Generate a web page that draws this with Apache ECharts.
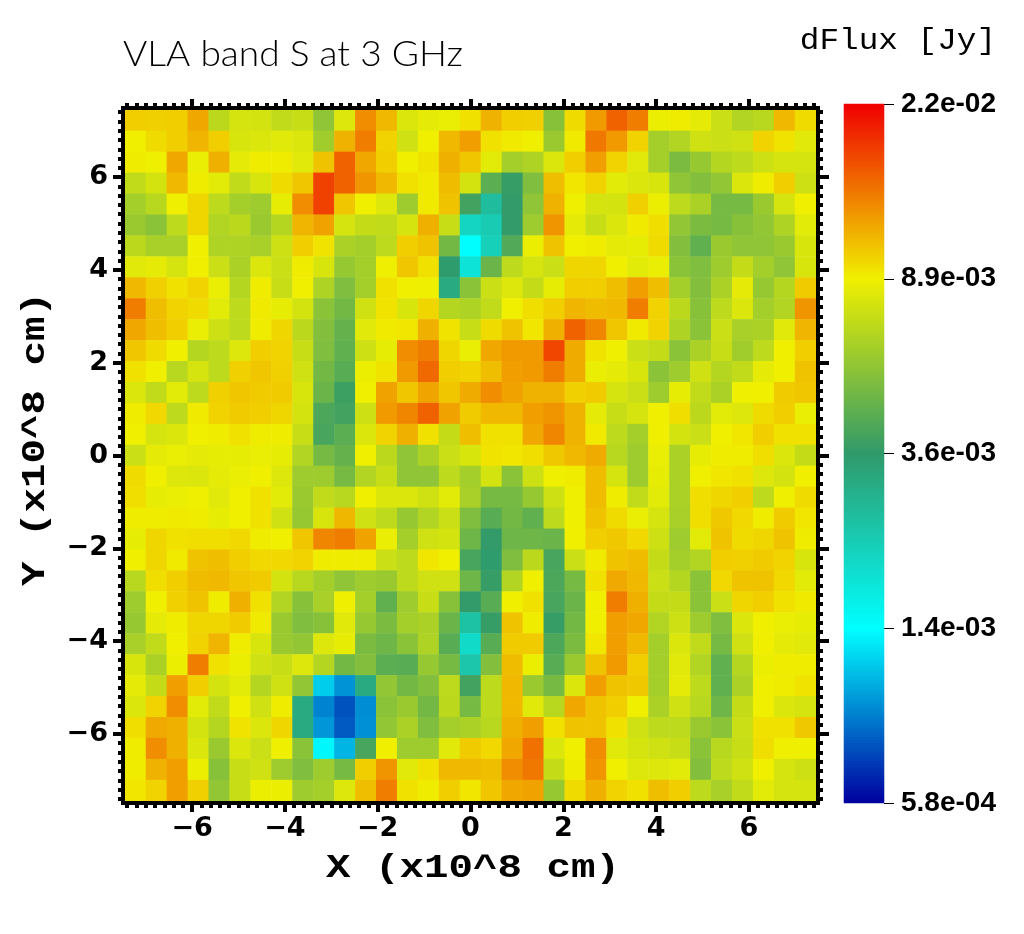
<!DOCTYPE html>
<html>
<head>
<meta charset="utf-8">
<title>VLA band S at 3 GHz</title>
<script src="https://cdn.jsdelivr.net/npm/echarts@6/dist/echarts.min.js"></script>
<style>
    html, body { margin: 0; padding: 0; background: #fff; }
    #container { width: 1024px; height: 934px; }
</style>
</head>
<body>
<div id="container"></div>
<script>
// dFlux per pixel in mJy, top row first
var fluxRows = [
    [10.1,10,10.1,11.7,6.9,7.8,7.7,7.1,7.3,5.6,8.1,12.9,10.9,8,8.4,8.6,9.4,11.2,10.1,10,5.4,9.6,12.3,15.2,13.7,8.7,9,8.4,7.4,6.6,6.8,10.9,9.6],
    [8.9,9.6,10.1,11.1,10.1,7.9,8,8.2,8,6.1,11.2,13.7,9.9,7.6,8.9,10.9,12.1,9.4,9.1,8.9,5.9,9.1,14,12.3,9.9,6.2,6.6,7.6,7.4,7.6,9.9,9.3,8.2],
    [9,8.8,11.7,8.6,11.3,8.4,9,9,8.2,10.5,15.2,11.7,10.1,8.9,9.3,11.3,10.4,8.3,6.2,6.5,8,10.1,12.1,9.9,8.2,6.2,5.1,5.8,6.7,7,7.5,7.8,7.8],
    [7.1,7.7,10.9,9,8.3,7.1,7.9,9.6,10.4,17.2,15.2,12.5,10.9,9.4,9.1,10.8,7.7,4.4,3.7,5.2,10.7,9.2,9.9,8.3,8,7.9,5.6,5.3,5.7,8,9,10.1,7.5],
    [6.2,6.8,8.8,9.8,7,6.2,6,8.5,12.9,17.2,10.4,8.9,8.1,6,9.1,10.5,3.9,2.6,3.6,5.6,11.2,8.8,7.8,7.7,10,8.7,7,6.4,5,5,5.9,7.8,8.9],
    [5.9,5.5,7,9.8,6.6,6.9,5.9,6.7,11.1,11.9,7.8,7.2,7.1,7.8,11.3,7.3,2.1,2.3,3.6,6,12.5,8.4,7.3,8,9.1,9.5,5.7,5.1,5,5.4,5.7,6.5,8.3],
    [6.9,6.3,6.3,8.9,6.5,6.5,6.3,7.5,10.1,9.3,6.4,6.2,7,10.1,10.5,4.9,1.45,2.2,4.2,8.7,10.5,8.9,9,8.4,8.5,9.6,5.3,4.5,5.9,5.6,5.6,5.9,7.9],
    [8.2,8.4,7.8,8.9,7.4,6.4,8,7.4,9,7.9,5.8,6.2,8.8,10.4,9.4,3.5,1.85,4.7,7,7.8,7.4,9.8,9.8,8.9,8.3,8.6,5.5,5.2,6,7.2,6.2,5.6,7.9],
    [10.9,10,9.4,9.9,8.6,6.7,9,7.3,8.9,6.5,5.2,6.2,9.4,8.9,8.8,3.1,5.5,7.4,8.1,7.2,8.5,10.1,10.1,10.7,12.1,10.7,6.2,5.3,6.4,8.4,5.8,6.7,10.2],
    [13.7,10.7,9.9,9.6,8.3,7,9.1,8.5,7.7,5.5,4.9,7.6,9.3,7.9,9.8,6.7,6.5,7.1,8.9,9.5,10.1,11.1,10.8,10.9,13.7,9.9,6.9,5.4,7,8,6.2,6.6,12.5],
    [11.7,10.7,10.1,8.6,7.5,7,9,9.8,6.9,5.3,4.6,8.2,9.1,9.2,11.3,9.3,7.3,9.6,10.5,9.2,11.3,15.2,13.3,10.4,9.1,9.9,6.5,5.5,7.4,6.3,6.4,8.2,11.1],
    [10.4,9.6,8.9,6.7,7,8.1,10.1,9.9,7.3,5.2,4.5,7.5,8.5,12.9,13.7,9.8,8.6,11.7,12.3,12.3,16.9,11.5,9.3,8.8,7.4,7.2,5.5,6.4,7.3,6.1,7,8.9,10.1],
    [9.4,8.9,6.8,7.8,7,10,10.4,10,7.6,4.9,4.3,8.7,9.3,12.3,14.8,10.1,9.9,10.7,12.1,12.3,13.7,11.5,8.6,8.4,7.9,5.5,6,7.6,6.7,7.1,8.4,8.9,10.5],
    [8,7.1,8.3,7,10,10.4,10.2,10.2,7.9,4.7,3.8,8.9,11.9,10.4,11.8,10.4,11.5,12.9,11.9,11.2,11.2,10,10.2,7.8,7.4,6,8.5,7.1,6.4,8.8,8.9,10.2,10.4],
    [9,9.7,7,9.1,9.9,10.2,10.1,9.8,7.7,4.1,3.9,7.5,12.3,13.3,15.2,11.9,10.2,10.9,10.9,12.1,12.5,11.2,8.4,7.3,7.8,8.9,9.5,6.9,8.3,8.1,9.6,10.1,8.6],
    [8.9,7.8,8,8.9,9,9.4,9,9,7.3,4,4.4,8,9.9,11.3,9.4,7.2,10.7,9.4,9.4,11.7,13.3,11.2,9.1,7,6.2,8.9,7.7,7.4,8.9,9.2,10.1,9.4,9.4],
    [7.4,8.4,8.6,8.4,8.5,8.5,8.6,8.5,6.6,5,4.6,8.9,6.9,5.6,6.4,7.4,7.9,9.3,9.2,9.5,10.3,10.9,11.5,6.8,6,8.6,6.4,8.5,9,9,9.5,8,7.2],
    [9.6,8.9,8.1,8,8.4,8.6,8.9,8.1,6,6,5,6.6,7.3,5.6,5.6,7,6.2,7.7,5.5,7.5,8.8,9,10.8,7.8,6,8.5,6.4,8.9,9.2,9.4,8.1,7.7,8.9],
    [9.5,8.5,8.6,8.8,8.2,8.9,9.4,8.3,5.9,7.1,6.8,8.9,8,8,7.6,8.3,6.3,5,5,5.8,7.5,8.8,10.8,9,7.1,8.3,6.4,9.5,9.8,10.1,7,8.8,9.6],
    [9,9,9.1,9,8.5,8.9,9.4,7.6,5.8,7.9,11,7.6,7,5.8,6.6,7.4,5.2,4.3,4.9,4.5,7,8.8,10.5,9.6,8.6,7.8,6.3,9.5,10.3,9.7,9,10.2,9.2],
    [8.5,9.8,9.4,9.5,9.5,9.7,9,8.9,10.4,13.3,13.7,11.9,8.6,6.2,7.6,7.7,4.8,3.6,4.8,4.8,4.7,8.9,10.1,10.3,9.7,7.5,6,8.3,10.5,9.6,9.8,10.5,9],
    [8.9,9.8,9.1,10.5,10.7,10.1,9.7,9.7,9.9,9,9,9,7.4,7,9.2,8.9,4,3.5,5.2,6.9,4,7.4,9.1,10.5,10.8,7.2,6.2,6.6,10.1,10,10.2,9.9,7.9],
    [6.8,9.5,10.1,10.8,10.9,10.4,10.2,7.7,6.8,6.2,5.6,6,5.9,7,7.6,7.6,4.8,3.7,6.6,8.9,4.1,5,9.4,11.6,10.9,7.4,6.7,5.5,9.7,10.5,10.5,9.7,8.3],
    [6,8.9,10,10.5,9,11.3,9.4,6.6,5.4,6.3,8.8,6.2,4.5,6,7.3,5.4,3.6,4.3,8.9,9.4,4,4.7,8.9,13.7,11.3,7.2,7.2,5.5,7.4,9.8,10.1,9.4,9.1],
    [5.8,8.4,9,9.8,9.8,10.2,9.1,5.9,5.2,5.4,8.2,5.8,5.1,6.2,6.4,4.7,2.5,3.7,10.5,9,3.7,4.9,8.9,12.1,11.7,6.6,7.5,6,5.2,8,8.9,8.6,8.5],
    [6.3,7.1,8.9,9.9,11.1,9,7.9,5.9,5.7,8.1,8.5,5.1,4.8,5.5,6.5,4.3,2,4.3,10.2,10.2,4.1,5.1,9.2,12.1,10.9,6.2,8,7.1,5,7.6,8.9,8.4,8.2],
    [7.9,6.4,8.7,13.7,9.4,8.7,7.6,7.3,8.1,6.7,4.9,5.3,4.4,4.3,5.8,5,2.4,5.3,10.8,8.7,4.3,5.9,10.5,12.3,10.1,6.2,8.2,6.6,4.5,6.7,8.7,9,9],
    [8.4,7.2,12.1,10.1,7.7,8.3,6.7,7.6,5.7,1.2,0.98,3.1,5.7,4.9,5.3,7,3.9,7,10.9,5.9,5,8,12.1,10.5,10.3,6.2,8.4,7,4.5,6.4,8.9,9,9.3],
    [8,9.9,12.9,8.3,7.1,8.9,7.6,9,3.1,0.93,0.78,0.96,5.5,5.9,4.9,6.9,5,7,10.9,8.2,6.8,11.7,10.5,10.1,8.9,6.4,7.6,6.8,4.8,7.2,8.9,8,7.8],
    [9.5,11.6,11.3,7.7,6.7,9.3,8,9.8,3.1,0.99,0.8,0.97,5.7,6.4,5.2,6.2,6.4,6.8,11.3,12.1,9.4,10.5,10.5,9.4,7.6,7,7,5.9,5.5,7.4,9.4,9.4,10.3],
    [9,12.9,11.3,8,5.9,8,7.4,8.8,5.5,1.4,1.1,4,8.9,6,6,8.2,10.2,9.7,11.7,14.4,8,8.9,12.9,8.2,7.8,7.6,7.3,5.5,6.8,7.3,9.5,8.8,8.8],
    [9,11.2,12.1,8.7,5.4,7.3,7.6,6,5.2,6,5,10.1,12.5,8.2,9.4,10.9,10.9,10.7,12.9,14,7.2,9,12.5,8.9,8.1,8.1,8.3,5.3,7,7.6,8.9,7.8,7.5],
    [9.2,9.9,12.1,10,5.7,7.3,8.7,8.7,6,6.2,8.1,10.7,13.7,9.4,9,10.1,9.2,10.4,11.7,11.9,5.8,9.6,11.3,9.9,9.4,10.7,10.1,7,6.3,7.1,8.3,7.8,7.8]
];
var majorTicks = [-6, -4, -2, 0, 2, 4, 6];
var colorbarLabels = ['5.8e-04', '1.4e-03', '3.6e-03', '8.9e-03', '2.2e-02'];
var palette = ['#00009f', '#00ffff', '#309a6a', '#f0f000', '#f00000'];
var fluxMin = 0.58, fluxMax = 22;   // mJy
var axisLimit = 7.446;

var tickFont = 'DejaVu Sans';
var barFont = 'Liberation Sans';
var monoFont = 'Liberation Mono';

var minorTicks = [];
for (var t = -37; t <= 37; t++) {
    minorTicks.push(t / 5);
}

// category axes carry the cells, the value axes of grids 1 and 2 only draw ticks
var cells = [];
for (var i = 0; i < fluxRows.length; i++) {
    cells.push(i);
}
var heatData = [];
fluxRows.forEach(function (row, r) {
    row.forEach(function (v, c) {
        heatData.push([c, r, Math.log10(v)]);
    });
});

// colour bar is a one column heatmap running through the same visualMap
var logMin = Math.log10(fluxMin), logMax = Math.log10(fluxMax);
var barSteps = [], barData = [];
for (var s = 0; s < 233; s++) {
    barSteps.push(s);
    barData.push([0, s, logMin + (s + 0.5) / 233 * (logMax - logMin)]);
}

function tickAxis(gridIndex, position, ticks, length, labelMargin, labelPadding) {
    var axis = {
        type: 'value',
        gridIndex: gridIndex,
        position: position,
        min: -axisLimit,
        max: axisLimit,
        splitLine: {show: false},
        axisLine: {show: false, onZero: false},
        axisTick: {
            show: true,
            customValues: ticks,
            length: length,
            lineStyle: {color: '#000', width: 4}
        },
        axisLabel: {show: false}
    };
    if (labelMargin) {
        axis.axisLabel = {
            show: true,
            customValues: majorTicks,
            margin: labelMargin,
            padding: labelPadding,
            color: '#000',
            fontFamily: tickFont,
            fontWeight: 'bold',
            fontSize: 27,
            formatter: function (v) {
                return String(v).replace('-', '\u2212');
            }
        };
    }
    return axis;
}

var xAxes = [
    {type: 'category', data: cells, gridIndex: 0, show: false},
    tickAxis(1, 'bottom', majorTicks, 11, 14),
    tickAxis(1, 'top', majorTicks, 11),
    tickAxis(2, 'bottom', minorTicks, 7),
    tickAxis(2, 'top', minorTicks, 7),
    {type: 'category', data: [0], gridIndex: 3, show: false},
    {type: 'value', gridIndex: 4, show: false, min: 0, max: 1}
];
var yAxes = [
    {type: 'category', data: cells, gridIndex: 0, show: false, inverse: true},
    tickAxis(1, 'left', majorTicks, 12, 17, [4, 0, 0, 0]),
    tickAxis(1, 'right', majorTicks, 13),
    tickAxis(2, 'left', minorTicks, 7),
    tickAxis(2, 'right', minorTicks, 7),
    {type: 'category', data: barSteps, gridIndex: 3, show: false},
    {
        type: 'category',
        data: colorbarLabels,
        gridIndex: 4,
        position: 'right',
        boundaryGap: false,
        axisLine: {show: false, onZero: false},
        axisTick: {show: true, length: 10, lineStyle: {color: '#000', width: 1}},
        axisLabel: {
            show: true,
            margin: 17,
            color: '#000',
            fontFamily: barFont,
            fontWeight: 'bold',
            fontSize: 28
        }
    }
];

var plotGrid = {left: 125, top: 110, width: 691, height: 691, outerBoundsMode: 'none'};
var barGrid = {left: 844, top: 104, width: 40, height: 699, outerBoundsMode: 'none'};

var myChart = echarts.init(document.getElementById('container'), null, {renderer: 'canvas'});
myChart.setOption({
    animation: false,
    backgroundColor: '#fff',
    grid: [plotGrid, plotGrid, plotGrid, barGrid, barGrid],
    xAxis: xAxes,
    yAxis: yAxes,
    visualMap: {
        type: 'continuous',
        show: false,
        seriesIndex: [0, 1],
        min: logMin,
        max: logMax,
        inRange: {color: palette}
    },
    series: [
        {
            type: 'heatmap',
            xAxisIndex: 0,
            yAxisIndex: 0,
            data: heatData,
            progressive: 0,
            itemStyle: {borderWidth: 0}
        },
        {
            type: 'heatmap',
            xAxisIndex: 5,
            yAxisIndex: 5,
            data: barData,
            progressive: 0,
            itemStyle: {borderWidth: 0}
        }
    ],
    graphic: [
        {
            type: 'rect',
            shape: {x: 123, y: 108, width: 695, height: 695},
            style: {fill: null, stroke: '#000', lineWidth: 4},
            z: 10
        },
        {
            type: 'text', x: 123, y: 54, scaleX: 1.03,
            style: {text: 'VLA band S at 3 GHz', font: '300 36px Lato', fill: '#000', textAlign: 'left', textVerticalAlign: 'middle'}
        },
        {
            type: 'text', x: 996, y: 41, scaleX: 1.09,
            style: {text: 'dFlux [Jy]', font: '30px "' + monoFont + '"', fill: '#000', textAlign: 'right', textVerticalAlign: 'middle'}
        },
        {
            type: 'text', x: 473, y: 868, scaleX: 1.2,
            style: {text: 'X (x10^8 cm)', font: 'bold 34px "' + monoFont + '"', fill: '#000', textAlign: 'center', textVerticalAlign: 'middle'}
        },
        {
            type: 'text', x: 35, y: 439, rotation: Math.PI / 2, scaleX: 1.2,
            style: {text: 'Y (x10^8 cm)', font: 'bold 34px "' + monoFont + '"', fill: '#000', textAlign: 'center', textVerticalAlign: 'middle'}
        }
    ]
});
</script>
</body>
</html>
